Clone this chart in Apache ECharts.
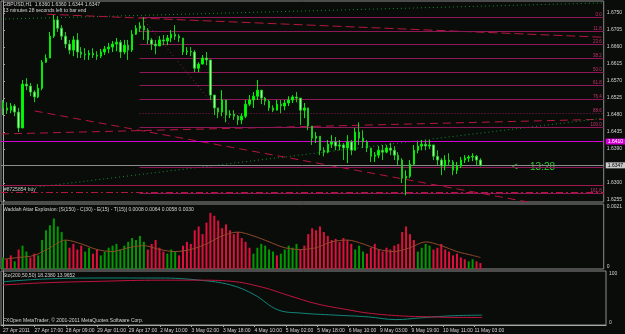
<!DOCTYPE html>
<html><head><meta charset="utf-8">
<script src="https://cdn.jsdelivr.net/npm/echarts@6/dist/echarts.min.js"></script>
<style>html,body{margin:0;padding:0;background:#0a0c0a;}#c{width:625px;height:334px;}</style>
</head><body><div id="c"></div>
<script>
// ---------- data ----------
const timeLabels = ["27 Apr 2011","27 Apr 17:00","28 Apr 09:00","29 Apr 01:00","29 Apr 17:00","2 May 10:00","3 May 02:00","3 May 18:00","4 May 10:00","5 May 02:00","5 May 18:00","6 May 10:00","9 May 03:00","9 May 19:00","10 May 11:00","11 May 03:00"];
const SLOTS = 154, LABEL_STEP = 8;

const firstOpen = 1.6512;
const highs = [1.6520,1.6514,1.6512,1.6509,1.6499,1.6573,1.6578,1.6565,1.6546,1.6562,
1.6626,1.6641,1.6700,1.6745,1.6742,1.6718,1.6700,1.6679,1.6689,1.6697,
1.6660,1.6657,1.6652,1.6657,1.6649,1.6655,1.6663,1.6671,1.6676,
1.6684,1.6679,1.6679,1.6679,1.6705,1.6718,1.6726,1.6739,1.6710,1.6684,
1.6679,1.6689,1.6692,1.6692,1.6705,1.6718,1.6694,1.6684,1.6660,1.6660,
1.6652,1.6620,1.6639,1.6647,1.6626,1.6533,1.6499,1.6546,1.6520,1.6493,
1.6493,1.6480,1.6485,1.6520,1.6533,1.6541,1.6573,1.6546,1.6528,1.6520,
1.6506,1.6520,1.6520,1.6520,1.6530,1.6533,1.6541,1.6525,1.6512,1.6499,
1.6451,1.6435,1.6424,1.6395,1.6414,1.6427,1.6422,
1.6414,1.6406,1.6427,1.6414,1.6446,1.6461,
1.6440,1.6414,1.6393,1.6382,1.6398,1.6401,1.6401,1.6406,1.6398,1.6382,
1.6366,1.6334,1.6361,1.6401,1.6409,1.6414,1.6414,1.6414,1.6401,1.6387,
1.6366,1.6374,1.6379,1.6361,1.6356,1.6369,1.6374,1.6374,1.6379,1.6374,
1.6366];
const lows = [1.6480,1.6483,1.6485,1.6477,1.6435,1.6446,1.6546,1.6530,1.6514,1.6525,
1.6546,1.6618,1.6631,1.6684,1.6700,1.6679,1.6657,1.6641,1.6636,1.6631,
1.6631,1.6626,1.6626,1.6631,1.6626,1.6631,1.6639,1.6644,1.6647,
1.6649,1.6631,1.6641,1.6626,1.6647,1.6692,1.6700,1.6679,1.6668,1.6652,
1.6641,1.6663,1.6665,1.6665,1.6673,1.6679,1.6673,1.6639,1.6639,1.6636,
1.6594,1.6594,1.6615,1.6612,1.6520,1.6480,1.6472,1.6477,1.6461,1.6472,
1.6467,1.6454,1.6456,1.6472,1.6504,1.6499,1.6520,1.6509,1.6506,1.6491,
1.6488,1.6493,1.6485,1.6493,1.6504,1.6512,1.6514,1.6454,1.6472,1.6440,
1.6401,1.6406,1.6374,1.6371,1.6379,1.6393,1.6387,
1.6387,1.6361,1.6353,1.6374,1.6387,1.6401,
1.6393,1.6382,1.6356,1.6356,1.6366,1.6361,1.6379,1.6374,1.6361,1.6348,
1.6300,1.6268,1.6313,1.6348,1.6379,1.6387,1.6387,1.6390,1.6361,1.6348,
1.6321,1.6334,1.6345,1.6321,1.6324,1.6340,1.6353,1.6356,1.6358,1.6348,
1.6344];
const closes = [1.6499,1.6493,1.6504,1.6488,1.6446,1.6562,1.6557,1.6541,1.6528,1.6551,
1.6620,1.6631,1.6689,1.6732,1.6710,1.6689,1.6668,1.6652,1.6679,1.6647,
1.6641,1.6639,1.6644,1.6639,1.6636,1.6647,1.6655,1.6660,1.6668,
1.6673,1.6647,1.6665,1.6652,1.6694,1.6710,1.6716,1.6705,1.6679,1.6668,
1.6663,1.6679,1.6676,1.6684,1.6694,1.6689,1.6684,1.6647,1.6649,1.6647,
1.6604,1.6615,1.6631,1.6626,1.6533,1.6499,1.6488,1.6520,1.6480,1.6483,
1.6477,1.6467,1.6477,1.6509,1.6520,1.6530,1.6546,1.6525,1.6517,1.6499,
1.6493,1.6509,1.6504,1.6512,1.6520,1.6528,1.6525,1.6493,1.6499,1.6451,
1.6419,1.6424,1.6387,1.6382,1.6403,1.6409,1.6398,
1.6401,1.6393,1.6409,1.6387,1.6435,1.6419,
1.6409,1.6393,1.6371,1.6374,1.6387,1.6382,1.6393,1.6387,1.6374,1.6361,
1.6313,1.6318,1.6350,1.6387,1.6398,1.6403,1.6398,1.6401,1.6371,1.6361,
1.6345,1.6361,1.6356,1.6334,1.6345,1.6361,1.6366,1.6369,1.6371,1.6361,
1.6347];

const priceTicks = [1.6750,1.6705,1.6660,1.6615,1.6570,1.6525,1.6480,1.6435,1.6390,1.6300,1.6255];
const lastPrice = 1.6347;
const magentaLevel = 1.6410;
const stopLevel = 1.6295;
const orderLevel = 1.6277;
const orderText = "#8725854 buy";
const fibLevels = [1.6739,1.6702,1.6668,1.6631,1.6594,1.6559,1.6522,1.6485,1.6448,1.6342,1.6273];
const fibNames  = ["0.0","11.8","23.6","38.2","50.0","61.8","76.4","88.6","100.0","","161.8"];
const fibStart = 34.9;

// trend lines: [slot index, price]
const upperChannel = [[-0.5,1.6734],[153.5,1.6777]];
const lowerChannel = [[4.3,1.6284],[153.5,1.6472]];
const fallingTrend = [[8.1,1.6491],[153.5,1.6213]];
const flatTrend    = [[-0.5,1.6430],[153.5,1.6469]];
const topTrend     = [[11.2,1.6747],[153.5,1.6686]];
const fibAnchor    = [[35.6,1.6737],[57.8,1.6456]];

// Waddah Attar Explosion histogram (positive = trend up/green, negative = trend down/red)
const wae = [0.00039,-0.00033,-0.00046,0.00026,-0.00066,0.00079,0.00059,-0.00039,-0.00052,0.00046,
0.00098,0.00131,0.00148,0.00171,0.00144,0.00125,0.00098,-0.00072,-0.00085,-0.00066,-0.00079,
0.00059,0.00072,-0.00052,-0.00066,0.00046,0.00059,0.00072,0.00079,
0.00085,0.00066,0.00079,0.00092,0.00105,0.00098,0.00112,0.00092,-0.00066,-0.00085,
-0.00098,-0.00072,-0.00059,0.00052,0.00066,0.00059,-0.00046,-0.00079,-0.00092,-0.00085,
-0.00131,-0.00144,-0.00118,-0.00157,-0.0019,-0.0018,-0.00164,-0.00138,-0.00151,-0.00131,
-0.00118,-0.00125,-0.00105,-0.00092,-0.00072,0.00052,0.00072,0.00085,0.00079,0.00066,
0.00059,-0.00046,0.00052,0.00066,0.00079,0.00072,0.00085,-0.00066,-0.00079,-0.00118,
-0.00138,-0.00131,-0.00144,-0.00125,-0.00112,-0.00098,-0.00102,
-0.00092,-0.00105,-0.00098,-0.00085,0.00066,0.00079,
0.00059,-0.00052,-0.00072,-0.00085,-0.00066,-0.00059,-0.00072,-0.00066,-0.00079,-0.00085,
-0.00125,-0.00144,-0.00118,-0.00098,0.00059,0.00072,0.00085,0.00079,-0.00066,-0.00072,
-0.00085,-0.00066,-0.00059,-0.00046,-0.00052,-0.00039,-0.00033,0.00026,0.00033,-0.00026,
-0.0002];
const explIdx = [0,4,8,12,16,20,24,28,32,36,40,44,48,52,56,60,64,68,72,76,80,84,88,92,96,100,104,108,112,116,120,122];
const explVal = [0.00033,0.00039,0.00046,0.00072,0.00098,0.00085,0.00066,0.00059,0.00072,0.00079,0.00066,0.00059,0.00066,0.00085,0.00112,0.00125,0.00112,0.00092,0.00072,0.00066,0.00072,0.00092,0.00098,0.00085,0.00066,0.00059,0.00072,0.00092,0.00079,0.00059,0.00046,0.00039];

// Stochastic
const stochMainIdx = [0,10,25,40,50,58,64,70,76,84,93,100,106,114,122];
const stochMain    = [80,85,87,87,83,74,56,28,22,18.5,15,10,13,17,18.24];
const stochSigIdx  = [0,10,25,40,50,58,66,73,80,88,93,101,109,116,122];
const stochSignal  = [74,78,81,83,83,81,70,54,39,28,22,17,15,14,13.97];

// ---------- build ----------
const categories = [];
for (let i = 0; i < SLOTS; i++) categories.push(i % LABEL_STEP === 0 && timeLabels[i / LABEL_STEP] ? timeLabels[i / LABEL_STEP] : '');
const candles = closes.map((c, i) => [i === 0 ? firstOpen : closes[i - 1], c, lows[i], highs[i]]);
const waeUp = wae.map(v => v > 0 ? v : '-');
const waeDn = wae.map(v => v < 0 ? -v : '-');
const pair = (a, b) => a.map((x, i) => [x, b[i]]);
const XMIN = -0.5, XMAX = SLOTS - 0.5;

const AX = '#a8a8a8', TXT = '#d4d4d4', FONT = 'Liberation Sans';
const fibColor = '#8e1858', trendRed = '#b5163f';

function fullLine(v, color, type, width, label) {
  return [{coord: [XMIN, v], lineStyle: {color, type, width}, label: label || {show: false}}, {coord: [XMAX, v]}];
}
const markData = [];
fibLevels.forEach((v, k) => {
  markData.push([{coord: [fibStart, v], lineStyle: {color: fibColor, type: k === 7 ? [1, 2] : 'solid', width: 1},
    label: {show: !!fibNames[k], position: 'insideEndTop', formatter: fibNames[k], color: '#c8306e', fontSize: 4.5, fontFamily: FONT, distance: 0, padding: [0, 2, 0, 0]}},
    {coord: [XMAX, v]}]);
});
markData.push(fullLine(stopLevel, '#a3184e', 'solid', 1));
markData.push(fullLine(orderLevel, trendRed, [7, 3, 2, 3], 1));
markData.push(fullLine(magentaLevel, '#d400d4', 'solid', 1,
  {show: true, position: 'end', distance: 2, formatter: magentaLevel.toFixed(4), backgroundColor: '#d400d4', color: '#ffffff', fontSize: 5, fontFamily: FONT, padding: [1, 2, 0, 2]}));
markData.push(fullLine(lastPrice, '#8c8c8c', 'solid', 1,
  {show: true, position: 'end', distance: 2, formatter: lastPrice.toFixed(4), backgroundColor: '#c8c8c8', color: '#000000', fontSize: 5, fontFamily: FONT, padding: [1, 2, 0, 2]}));

function trend(data, color, type, markLine) {
  const s = {type: 'line', xAxisIndex: 1, yAxisIndex: 0, data, symbol: 'none', silent: true, animation: false,
    lineStyle: {color, type, width: 1}, z: 3};
  if (markLine) s.markLine = markLine;
  return s;
}

const chart = echarts.init(document.getElementById('c'), null, {renderer: 'canvas'});
const option = {
  backgroundColor: '#0a0c0a',
  animation: false,
  grid: [
    {left: 1, right: 19, top: 1, height: 201, show: true, borderColor: '#8c8c8c', borderWidth: 1},
    {left: 1, right: 19, top: 204, height: 65, show: true, borderColor: '#8c8c8c', borderWidth: 1},
    {left: 1, right: 19, top: 271, height: 54, show: true, borderColor: '#8c8c8c', borderWidth: 1}
  ],
  xAxis: [
    {type: 'category', gridIndex: 0, data: categories, boundaryGap: true, show: false},
    {type: 'value', gridIndex: 0, min: XMIN, max: XMAX, show: false},
    {type: 'category', gridIndex: 1, data: categories, boundaryGap: true, show: false},
    {type: 'value', gridIndex: 1, min: XMIN, max: XMAX, show: false},
    {type: 'category', gridIndex: 2, data: categories, boundaryGap: true,
      axisLine: {show: true, lineStyle: {color: AX}},
      axisTick: {show: true, alignWithLabel: true, length: 2, interval: (i, v) => v !== '', lineStyle: {color: AX}},
      axisLabel: {show: true, interval: 0, align: 'left', color: TXT, fontSize: 5, fontFamily: FONT, margin: 3},
      splitLine: {show: false}},
    {type: 'value', gridIndex: 2, min: XMIN, max: XMAX, show: false}
  ],
  yAxis: [
    {type: 'value', gridIndex: 0, position: 'right', min: 1.6250, max: 1.6782, scale: true,
      axisLine: {show: true, lineStyle: {color: AX}},
      axisTick: {show: true, length: 2, customValues: priceTicks, lineStyle: {color: AX}},
      axisLabel: {customValues: priceTicks, formatter: v => v.toFixed(4), color: TXT, fontSize: 5, fontFamily: FONT, margin: 3},
      splitLine: {show: false}},
    {type: 'value', gridIndex: 1, position: 'right', min: 0, max: 0.0022,
      axisLine: {show: true, lineStyle: {color: AX}},
      axisTick: {show: false},
      axisLabel: {customValues: [0, 0.0021], formatter: v => v === 0 ? '0' : v.toFixed(4), color: TXT, fontSize: 5, fontFamily: FONT, margin: 3, verticalAlignMinLabel: 'bottom'},
      splitLine: {show: false}},
    {type: 'value', gridIndex: 2, position: 'right', min: 0, max: 100,
      axisLine: {show: true, lineStyle: {color: AX}},
      axisTick: {show: false},
      axisLabel: {customValues: [0, 100], color: TXT, fontSize: 5, fontFamily: FONT, margin: 3, verticalAlignMinLabel: 'bottom', verticalAlignMaxLabel: 'top'},
      splitLine: {show: false}}
  ],
  series: [
    trend(flatTrend, trendRed, [8, 5], {symbol: 'none', silent: true, animation: false, data: markData}),
    trend(upperChannel, '#13902c', [1, 3]),
    trend(lowerChannel, '#13902c', [1, 3]),
    trend(fallingTrend, trendRed, [8, 5]),
    trend(topTrend, trendRed, [9, 4]),
    trend(fibAnchor, '#a3184e', [1, 3]),
    {type: 'candlestick', xAxisIndex: 0, yAxisIndex: 0, data: candles, barWidth: 2, z: 5,
      itemStyle: {color: '#00ff00', color0: '#a8f5a8', borderColor: '#00ee00', borderColor0: '#1fc81f', borderWidth: 1}},
    {type: 'bar', xAxisIndex: 2, yAxisIndex: 1, data: waeUp, barWidth: 2, barGap: '-100%', itemStyle: {color: '#009a00'}},
    {type: 'bar', xAxisIndex: 2, yAxisIndex: 1, data: waeDn, barWidth: 2, barGap: '-100%', itemStyle: {color: '#e0103c'}},
    {type: 'line', xAxisIndex: 3, yAxisIndex: 1, data: pair(explIdx, explVal), symbol: 'none', smooth: 0.3, lineStyle: {color: '#8f4a28', width: 1}, z: 4},
    {type: 'line', xAxisIndex: 5, yAxisIndex: 2, data: pair(stochMainIdx, stochMain), symbol: 'none', smooth: 0.4, lineStyle: {color: '#11877a', width: 1}},
    {type: 'line', xAxisIndex: 5, yAxisIndex: 2, data: pair(stochSigIdx, stochSignal), symbol: 'none', smooth: 0.4, lineStyle: {color: '#c0143e', width: 1}}
  ],
  graphic: [
    {type: 'text', left: 3, top: 2, style: {text: 'GBPUSD,H1  1.6360 1.6360 1.6344 1.6347', fill: TXT, fontSize: 5, fontFamily: FONT}},
    {type: 'text', left: 3, top: 8, style: {text: '13 minutes 28 seconds left to bar end', fill: TXT, fontSize: 5, fontFamily: FONT}},
    {type: 'text', left: 4, top: 187, style: {text: orderText, fill: '#c8c8c8', fontSize: 5, fontFamily: FONT}},
    {type: 'text', left: 512, top: 162, style: {text: '<- - 13:28', fill: '#2fc92f', fontSize: 10, fontFamily: FONT}},
    {type: 'text', left: 3, top: 207, style: {text: 'Waddah Attar Explosion: [S(150) - C(30) - E(15) - T(15)] 0.0008 0.0064 0.0058 0.0030', fill: TXT, fontSize: 5, fontFamily: FONT}},
    {type: 'text', left: 3, top: 273, style: {text: 'Sto(200,50,50) 18.2380 13.9652', fill: TXT, fontSize: 5, fontFamily: FONT}},
    {type: 'text', left: 3, top: 318, style: {text: 'FXOpen MetaTrader, \u00a9 2001-2011 MetaQuotes Software Corp.', fill: TXT, fontSize: 5, fontFamily: FONT}}
  ]
};
chart.setOption(option);
</script>
</body></html>
